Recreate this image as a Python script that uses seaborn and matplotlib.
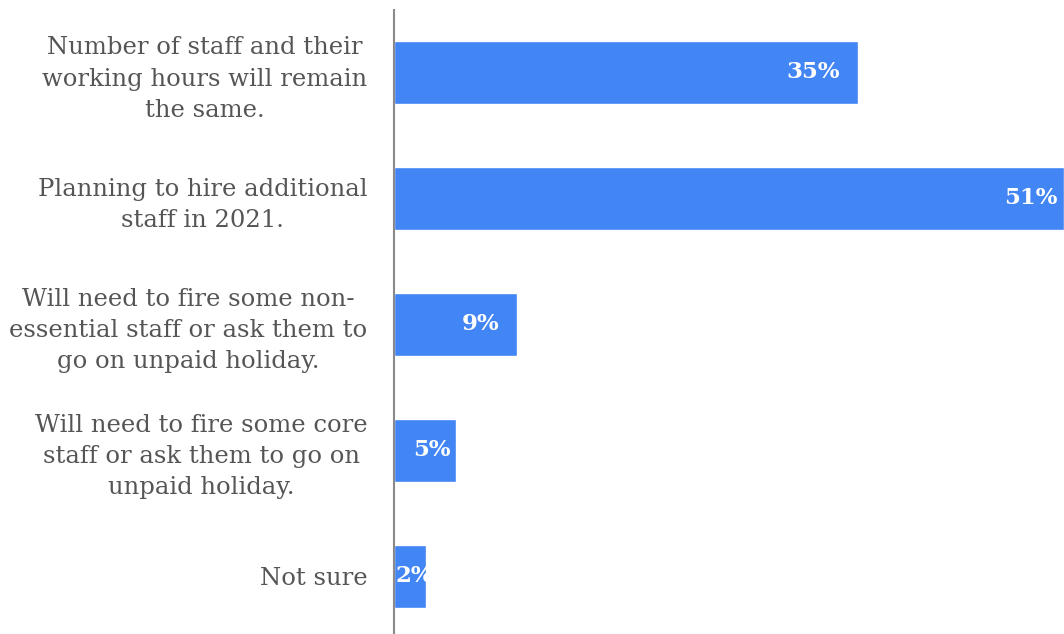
import matplotlib
matplotlib.use("Agg")
import matplotlib.pyplot as plt
import seaborn as sns
import pandas as pd

categories = [
    "Number of staff and their\nworking hours will remain\nthe same.",
    "Planning to hire additional\nstaff in 2021.",
    "Will need to fire some non-\nessential staff or ask them to\ngo on unpaid holiday.",
    "Will need to fire some core\nstaff or ask them to go on\nunpaid holiday.",
    "Not sure",
]
values = [35.3, 51.0, 9.4, 4.7, 2.4]
value_labels = ["35%", "51%", "9%", "5%", "2%"]

sns.set_style("white")
plt.rcParams["font.family"] = ["DejaVu Serif"]

df = pd.DataFrame({"cat": categories, "val": values})

fig = plt.figure(figsize=(10.64, 6.34), dpi=100)
ax = fig.add_axes([394 / 1064, 0.0, 1 - 394 / 1064, 1 - 10 / 634])

sns.barplot(data=df, y="cat", x="val", orient="h", color="#4285f4",
            saturation=1, width=0.5, ax=ax)

ax.set_xlim(0, 51)
ax.set_ylim(4.46, -0.496)
ax.set_xlabel("")
ax.set_ylabel("")
ax.set_xticks([])
for s in ["top", "right", "bottom"]:
    ax.spines[s].set_visible(False)
ax.spines["left"].set_color("#8a8a8a")
ax.spines["left"].set_linewidth(1.5)
ax.tick_params(axis="y", length=0, pad=19, labelsize=17.5, labelcolor="#555555")
for t in ax.get_yticklabels():
    t.set_multialignment("center")
    t.set_linespacing(1.45)

vmax = max(values)
px_per_unit = 670 / 51
for i, (v, lab) in enumerate(zip(values, value_labels)):
    px_w = v * px_per_unit
    kw = dict(textcoords="offset points", va="center", color="white",
              fontweight="bold", fontsize=16.5)
    if v == vmax:
        ax.annotate(lab, (v, i), xytext=(-5, 0), ha="right", **kw)
    elif px_w > 100:
        ax.annotate(lab, (v, i), xytext=(-13, 0), ha="right", **kw)
    elif px_w > 50:
        ax.annotate(lab, (v, i), xytext=(-3.5, 0), ha="right", **kw)
    else:
        ax.annotate(lab, (0, i), xytext=(1.2, 0), ha="left", **kw)

fig.savefig("out.png", dpi=100)
